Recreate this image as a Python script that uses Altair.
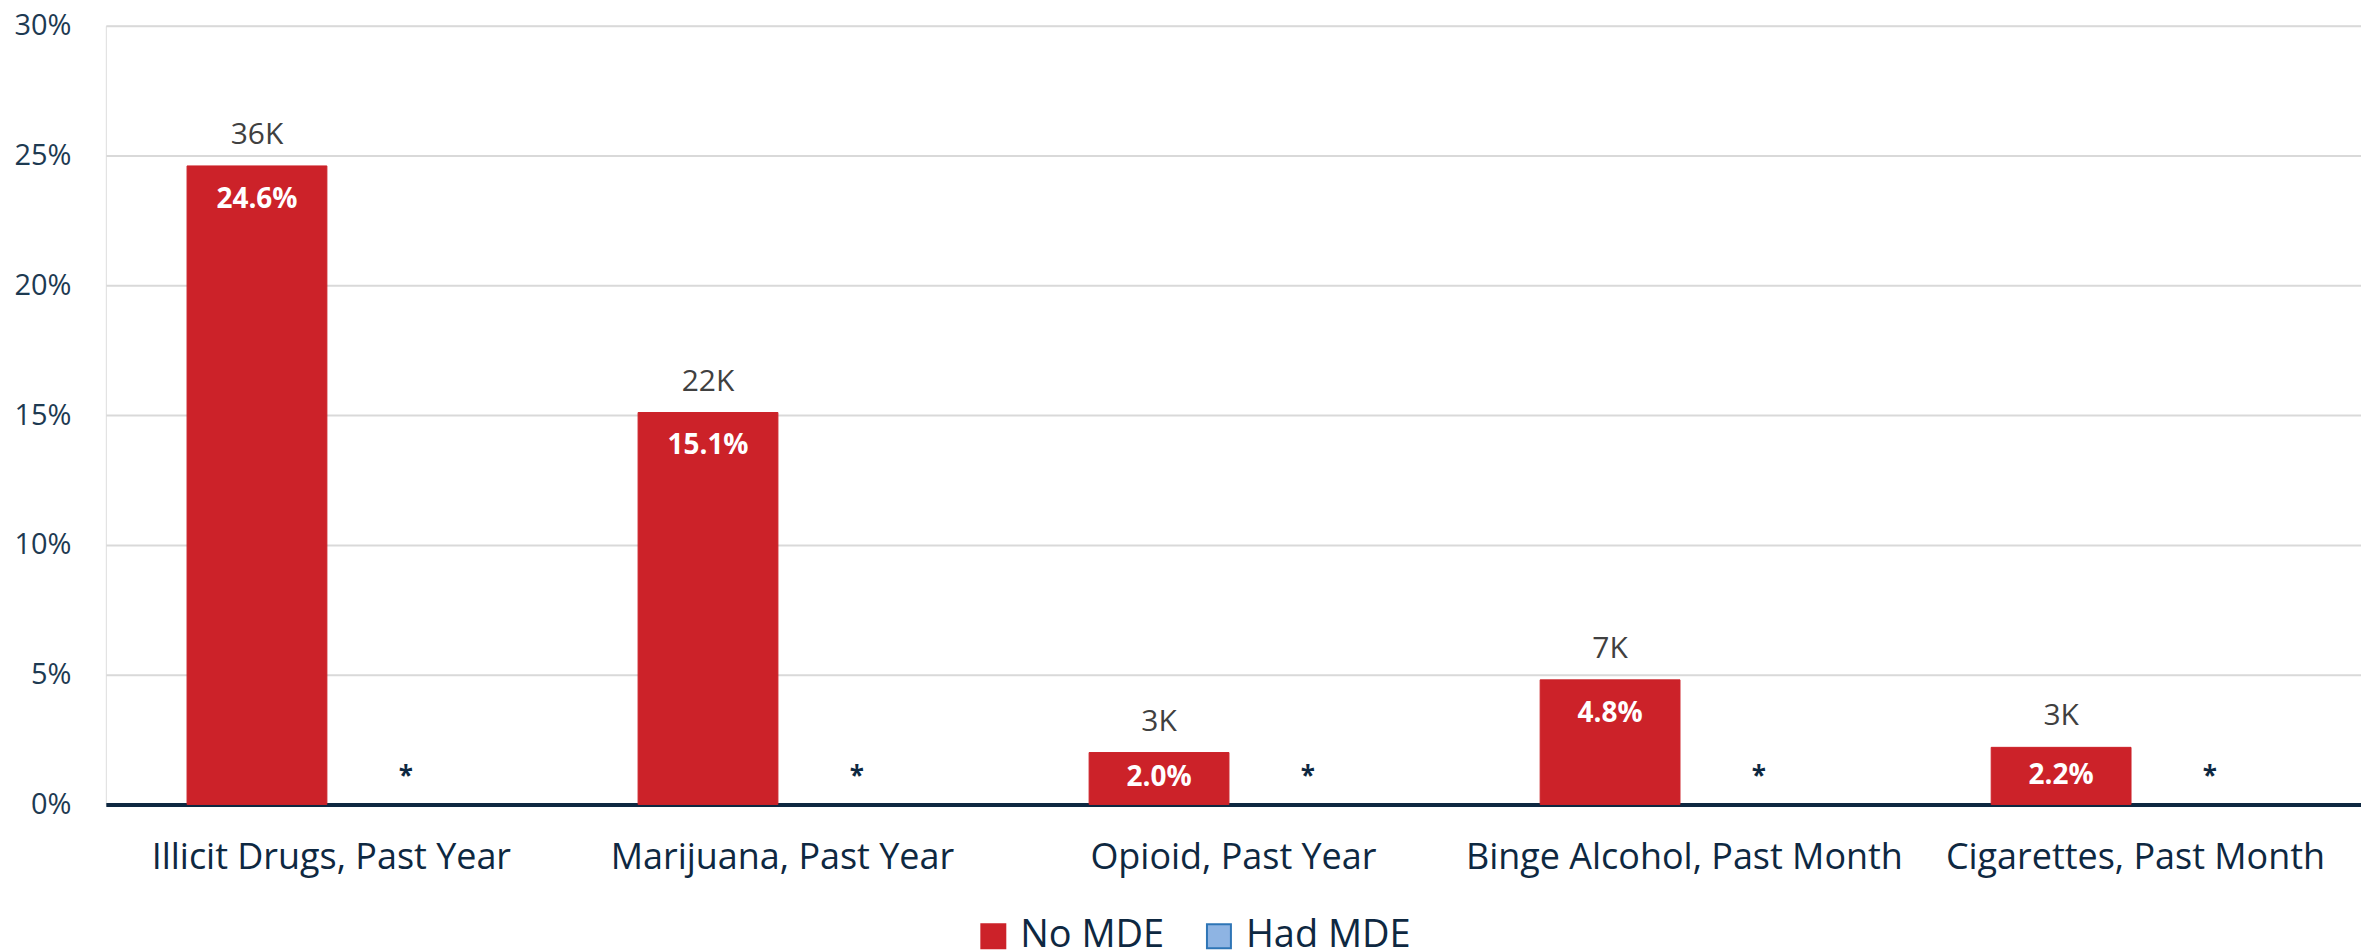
import altair as alt
import pandas as pd

categories = ["Illicit Drugs, Past Year", "Marijuana, Past Year", "Opioid, Past Year",
              "Binge Alcohol, Past Month", "Cigarettes, Past Month"]
groups = ["No MDE", "Had MDE"]
no_mde_pct = [24.6, 15.1, 2.0, 4.8, 2.2]
no_mde_count = ["36K", "22K", "3K", "7K", "3K"]
had_mde_pct = [None, None, None, None, None]
had_mde_label = ["*", "*", "*", "*", "*"]
y_ticks = [0, 5, 10, 15, 20, 25, 30]

rows = []
for i, c in enumerate(categories):
    rows.append({"category": c, "group": "No MDE", "value": no_mde_pct[i],
                 "count": no_mde_count[i], "pct": f"{no_mde_pct[i]:.1f}%", "mark": ""})
    rows.append({"category": c, "group": "Had MDE", "value": had_mde_pct[i],
                 "count": "", "pct": "", "mark": had_mde_label[i]})
df = pd.DataFrame(rows)

FONT = "Open Sans"
NAVY = "#0e2841"

x_enc = alt.X("category:N", sort=categories, title=None,
              scale=alt.Scale(paddingInner=0, paddingOuter=0),
              axis=alt.Axis(domainColor=NAVY, domainWidth=4, ticks=False, labelAngle=0,
                            labelFontSize=36, labelColor=NAVY, labelFont=FONT, labelLimit=0,
                            labelPadding=36, grid=False))
xo_enc = alt.XOffset("group:N", sort=groups,
                     scale=alt.Scale(domain=groups, paddingInner=0.06, paddingOuter=0.546))
y_scale = alt.Scale(domain=[0, 30], nice=False, zero=True)

legend_cfg = dict(orient="none", legendX=870, legendY=893, direction="horizontal",
                  symbolType="square", symbolSize=576, symbolStrokeWidth=2,
                  labelFontSize=38, labelColor=NAVY, labelFont=FONT, labelLimit=0,
                  labelOffset=8, columnPadding=35, padding=0, title=None, symbolOpacity=1)

base = alt.Chart(df)

bars = base.mark_bar().encode(
    x=x_enc,
    xOffset=xo_enc,
    y=alt.Y("value:Q", scale=y_scale, title=None,
            axis=alt.Axis(values=y_ticks, labelExpr="datum.value + '%'", domain=False, ticks=False,
                          gridColor="#d9d9d9", gridWidth=2, labelFontSize=29, labelColor="#1d3a52",
                          labelFont=FONT, labelPadding=35)),
    color=alt.Color("group:N", sort=groups, title=None,
                    scale=alt.Scale(domain=groups, range=["#CC2229", "#8EB4E3"]),
                    legend=alt.Legend(**legend_cfg)),
    stroke=alt.Stroke("group:N", sort=groups, title=None,
                      scale=alt.Scale(domain=groups, range=["#CC2229", "#2E75B6"]),
                      legend=alt.Legend(**legend_cfg)),
)

top_labels = base.transform_filter("datum.group == 'No MDE'").mark_text(
    baseline="middle", dy=-31, fontSize=30, font=FONT, color="#404040"
).encode(x=x_enc, xOffset=xo_enc, y=alt.Y("value:Q", scale=y_scale), text="count:N")

in_labels = base.transform_filter("datum.group == 'No MDE'").transform_calculate(
    lpos="max(datum.value - 1.3, datum.value / 2)"
).mark_text(baseline="middle", fontSize=28, font=FONT, fontWeight="bold", color="white").encode(
    x=x_enc, xOffset=xo_enc, y=alt.Y("lpos:Q", scale=y_scale), text="pct:N")

stars = base.transform_filter("datum.group == 'Had MDE'").transform_calculate(
    zero="0"
).mark_text(baseline="middle", dy=-27, fontSize=26, font=FONT, fontWeight="bold", color=NAVY).encode(
    x=x_enc, xOffset=xo_enc, y=alt.Y("zero:Q", scale=y_scale), text="mark:N")

chart = alt.layer(bars, top_labels, in_labels, stars).properties(
    width=2259, height=780,
    autosize=alt.AutoSizeParams(type="none"),
    padding={"left": 98, "top": 17, "right": 0, "bottom": 146},
).configure_view(stroke=None).configure(background="white")

chart.save("out.html", embed_options={"renderer": "svg", "actions": False})
